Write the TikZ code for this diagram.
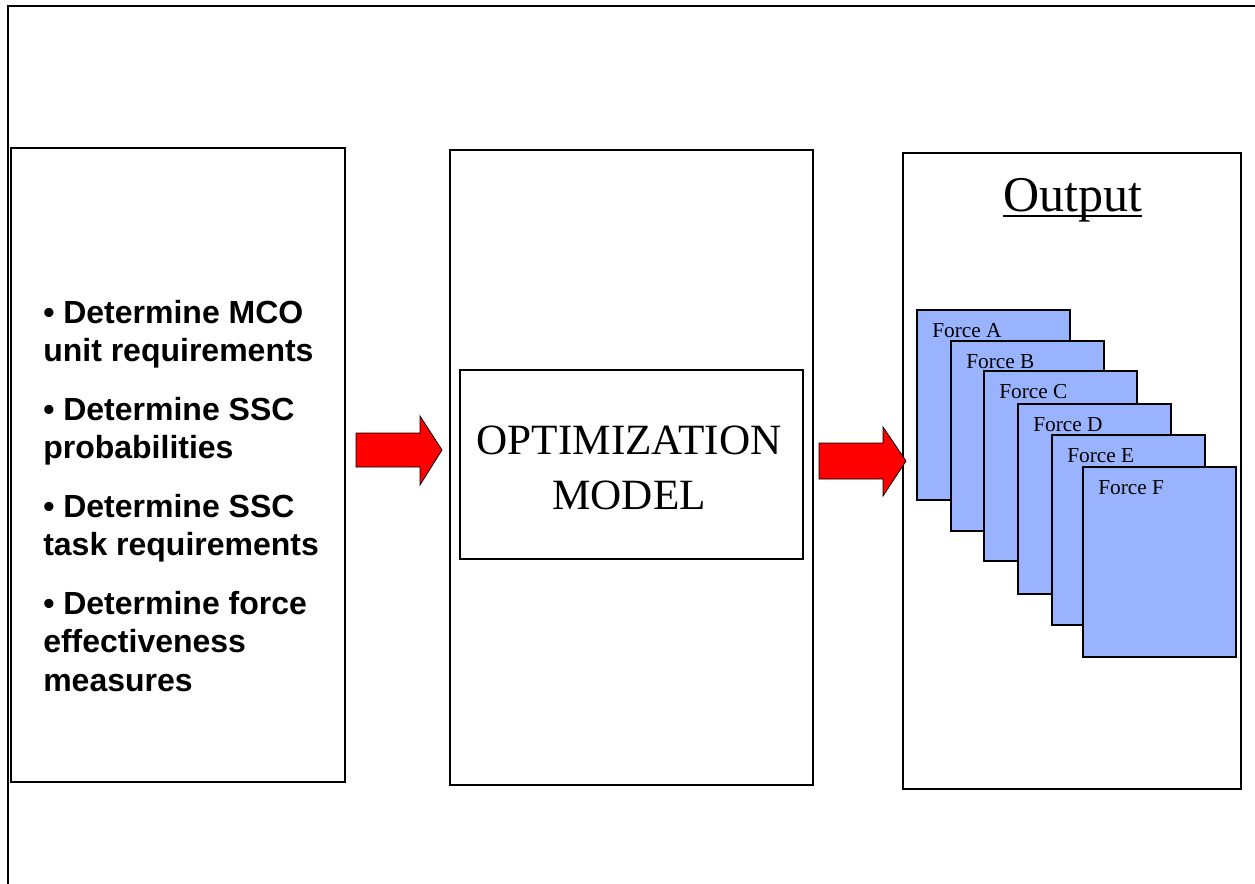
\documentclass[tikz,border=0pt]{standalone}
\usepackage{fontspec}
\setmainfont{Liberation Serif}
\newfontfamily\arialfont{Liberation Sans}
\definecolor{forceblue}{RGB}{153,179,255}
\definecolor{arrowred}{RGB}{255,0,0}
\begin{document}
\begin{tikzpicture}[x=0.75pt,y=-0.75pt,
  panel/.style={draw=black, line width=0.8pt, inner sep=0pt, outer sep=0pt},
  forcebox/.style={draw=black, line width=0.9pt, fill=forceblue, inner sep=0pt, outer sep=0pt,
    minimum width={153*0.75pt}, minimum height={190*0.75pt}, anchor=north west},
  forcelabel/.style={anchor=base west, inner sep=0pt, font=\fontsize{16}{19}\selectfont},
  bullettext/.style={anchor=base west, inner sep=0pt, font=\arialfont\bfseries\fontsize{24}{28.8}\selectfont},
  blockarrow/.style={draw=black, line width=0.6pt, fill=arrowred, line join=miter}
]
\useasboundingbox (0,0) rectangle (1255,884);
\begin{scope}
\clip (0,0) rectangle (1255,884);
\draw[line width=2pt] (8,894) -- (8,6) -- (1265,6);
\end{scope}

% panels
\node[panel, minimum width={334*0.75pt}, minimum height={634*0.75pt}] (inputs) at (178,465) {};
\node[panel, minimum width={363*0.75pt}, minimum height={635*0.75pt}] (model) at (631.5,467.5) {};
\node[panel, minimum width={343*0.75pt}, minimum height={189*0.75pt}] (optbox) at (631.5,464.5) {};
\node[panel, minimum width={338*0.75pt}, minimum height={636*0.75pt}] (output) at (1072,471) {};

% bullet text
\node[bullettext] (l1) at (43,323) {• Determine MCO};
\node[bullettext] (l2) at (43,361.5) {unit requirements};
\node[bullettext] (l3) at (43,420) {• Determine SSC};
\node[bullettext] (l4) at (43,458.5) {probabilities};
\node[bullettext] (l5) at (43,517) {• Determine SSC};
\node[bullettext] (l6) at (43,555.5) {task requirements};
\node[bullettext] (l7) at (43,614) {• Determine force};
\node[bullettext] (l8) at (43,652.5) {effectiveness};
\node[bullettext] (l9) at (43,691) {measures};

% model text
\node[anchor=base, inner sep=0pt, font=\fontsize{32.4}{38}\selectfont] (opt1) at (629,454) {OPTIMIZATION};
\node[anchor=base, inner sep=0pt, font=\fontsize{32.4}{38}\selectfont] (opt2) at (629,509) {MODEL};

% output title
\node[anchor=base, inner sep=0pt, font=\fontsize{37.5}{45}\selectfont] (outtitle) at (1072.5,212) {Output};
\draw[line width=1.3pt] ([yshift=-3pt]outtitle.base west) -- ([yshift=-3pt]outtitle.base east);

% force boxes
\foreach \n/\x/\y in {A/917/310, B/951/341, C/984/371, D/1018/404, E/1052/435, F/1083/467}{
  \node[forcebox] (force\n) at (\x,\y) {};
  \node[forcelabel] (label\n) at ([xshift={15*0.75pt}, yshift={-27*0.75pt}]force\n.north west) {Force \n};
}

% block arrows
\coordinate (a1) at (356,450);
\draw[blockarrow] (356,433) -- (420,433) -- (420,416) -- (442,450) -- (420,485) -- (420,467) -- (356,467) -- cycle;
\coordinate (a2) at (819,461);
\draw[blockarrow] (819,443) -- (883,443) -- (883,427) -- (906,461) -- (883,496) -- (883,479) -- (819,479) -- cycle;
\end{tikzpicture}
\end{document}
